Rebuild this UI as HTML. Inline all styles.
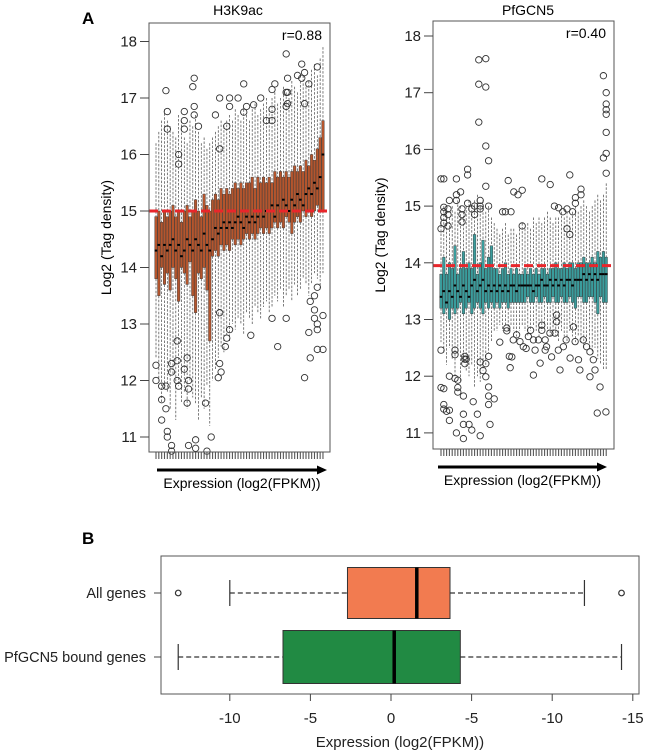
<!DOCTYPE html>
<html><head><meta charset="utf-8">
<style>
html,body{margin:0;padding:0;background:#fff;}
svg{display:block;font-family:"Liberation Sans",sans-serif;}
</style></head>
<body>
<svg id="fig" width="649" height="753" viewBox="0 0 649 753">
  <text x="82" y="24" font-size="17" font-weight="bold">A</text>
  <text x="82" y="544" font-size="17" font-weight="bold">B</text>
  <g id="pL"></g>
  <g id="pR"></g>
  <g id="pB"></g>
</svg>
<script>
// ---------- Panel A left (H3K9ac) ----------
const medL=[14.3,14.4,14.2,14.4,14.3,14.4,14.5,14.3,14.4,14.2,14.3,14.5,14.4,14.3,14.5,14.4,14.3,14.6,14.4,14.3,14.5,14.7,14.6,14.7,14.8,14.7,14.8,14.7,14.8,14.9,14.8,14.7,14.9,14.8,14.9,14.8,14.9,15.0,14.9,15.0,15.0,15.1,14.9,15.1,15.0,15.2,15.1,15.0,15.2,15.1,15.3,15.2,15.1,15.3,15.4,15.3,15.5,15.4,15.6,16.0];
const q1L=[13.8,13.5,14.0,13.7,13.9,13.6,14.0,13.8,13.4,14.0,13.9,13.7,14.1,13.5,13.2,13.9,13.8,14.0,13.6,12.7,14.2,14.3,14.2,14.4,14.3,14.4,14.3,14.5,14.4,14.5,14.4,14.5,14.6,14.5,14.6,14.5,14.6,14.7,14.6,14.7,14.6,14.7,14.8,14.7,14.8,14.7,14.9,14.8,14.6,14.8,14.9,14.8,15.0,14.9,15.0,14.9,15.0,15.1,15.0,15.0];
const q3L=[14.9,15.0,14.8,15.0,14.9,15.0,15.1,14.9,15.0,14.8,15.0,15.1,14.9,15.0,15.2,15.0,14.9,15.3,15.1,15.0,15.2,15.3,15.2,15.4,15.3,15.4,15.3,15.4,15.5,15.4,15.5,15.4,15.5,15.5,15.6,15.4,15.6,15.5,15.6,15.5,15.6,15.5,15.7,15.6,15.7,15.6,15.7,15.6,15.7,15.8,15.7,15.8,15.7,15.9,15.8,16.0,15.9,16.1,16.3,16.6];
const hiL=[16.2,16.4,16.6,16.8,16.6,16.5,16.4,16.3,16.7,16.6,16.3,16.2,16.6,16.5,16.7,16.4,16.2,16.3,16.1,16.2,16.3,16.4,16.5,16.6,16.5,16.6,16.7,16.6,16.8,16.7,16.6,16.8,16.7,16.6,16.8,16.9,16.7,16.8,16.9,17.0,16.8,17.0,17.1,16.9,17.0,17.2,17.1,17.0,17.3,17.2,17.1,17.3,17.4,17.2,17.3,17.5,17.6,17.4,17.7,17.9];
const loL=[12.4,12.0,11.6,11.9,11.8,11.5,12.1,11.3,11.9,11.6,11.8,11.5,12.0,11.7,11.6,11.3,11.7,11.5,11.9,11.2,12.0,12.2,12.4,12.6,12.5,12.8,12.7,13.0,12.9,13.1,13.0,12.8,13.2,13.1,13.0,13.3,13.2,13.1,13.3,13.4,13.2,13.3,13.5,13.4,13.6,13.3,13.5,13.6,13.4,13.7,13.5,13.6,13.8,13.7,13.5,13.7,13.9,13.8,13.6,13.9];
const outIdxL=[3.5,4,4,10,10,10,8,8,13,13.5,13.5,13.5,15,21,22.5,22.5,25,26,26,29,31,31,32,34.5,37,39,41,41,41,42,46,46,46,46.5,46.5,46.5,50,51.5,51.5,52.5,52.5,54,57,
 0,0,2,2,4,4,2,3.5,5.5,5.5,3.5,5.5,5.5,7.5,7.5,7.5,8,10,11,11,11.5,11.5,11.5,14,14,17.5,18,19.5,22.5,22.5,23,24.5,25,26,22,33.5,41,43,46,52.5,54,54.5,54.5,56,56,56,57,57,57,57,59,59];
const outValL=[17.13,16.76,16.45,16.76,16.6,16.45,16.0,15.83,17.2,17.35,16.85,16.7,16.5,16.7,17.0,16.1,16.5,17.0,16.85,17.0,17.25,16.75,16.85,16.88,17.0,16.6,16.6,16.8,17.15,17.25,17.78,17.1,16.85,17.35,16.9,17.1,17.4,17.6,17.35,17.45,16.9,17.25,17.55,
 12.27,12.0,11.66,11.3,11.0,11.1,11.9,11.9,10.85,10.75,11.5,12.15,12.3,12.7,12.35,12.0,11.9,12.2,12.4,11.6,12.0,11.85,10.85,10.95,10.8,11.6,10.75,11.0,13.2,12.3,12.15,12.6,12.75,12.9,12.05,12.8,13.1,12.6,13.1,12.05,12.85,12.4,13.4,13.5,13.25,13.1,13.0,12.9,13.65,12.55,13.15,12.55];
const yTicksL=[11,12,13,14,15,16,17,18];
const refL=15.0;

// ---------- Panel A right (PfGCN5) ----------
const medR=[13.4,13.5,13.3,13.5,13.4,13.6,13.5,13.4,13.6,13.5,13.4,13.6,13.7,13.5,13.6,13.7,13.5,13.6,13.5,13.6,13.5,13.6,13.5,13.6,13.5,13.6,13.6,13.5,13.6,13.6,13.6,13.6,13.6,13.5,13.6,13.6,13.7,13.6,13.6,13.7,13.6,13.7,13.6,13.7,13.6,13.7,13.7,13.6,13.7,13.7,13.7,13.8,13.7,13.8,13.7,13.8,13.7,13.8,13.8,13.8];
const q1R=[13.2,13.1,13.2,13.0,13.2,13.1,13.2,13.3,13.1,13.2,13.3,13.1,13.2,13.3,13.2,13.1,13.3,13.2,13.3,13.2,13.3,13.2,13.3,13.3,13.2,13.3,13.3,13.3,13.3,13.3,13.3,13.4,13.3,13.3,13.4,13.3,13.3,13.4,13.3,13.3,13.4,13.3,13.3,13.4,13.3,13.3,13.4,13.3,13.2,13.4,13.4,13.3,13.3,13.4,13.4,13.3,13.1,13.4,13.3,13.3];
const q3R=[13.8,14.1,13.8,14.0,13.9,14.3,13.8,13.9,14.2,13.9,14.0,13.9,14.5,13.8,14.0,14.4,13.9,14.1,14.3,13.9,13.9,13.8,13.9,14.0,13.8,13.9,13.8,13.9,13.8,13.8,13.9,13.8,13.9,13.8,13.9,13.8,13.9,13.9,13.8,13.9,13.9,14.0,13.9,13.9,14.0,13.9,14.0,14.0,13.9,14.0,14.0,14.1,14.0,14.0,14.1,14.0,14.2,14.1,14.2,14.1];
const hiR=[14.8,15.0,14.9,14.8,15.0,14.9,15.1,15.0,14.9,15.0,15.1,15.0,15.1,15.2,15.0,15.1,14.9,15.0,14.8,14.7,14.6,14.5,14.6,14.7,14.5,14.6,14.6,14.5,14.6,14.7,14.6,14.7,14.6,14.8,14.7,14.8,14.7,14.8,14.9,14.8,14.7,14.8,14.8,14.9,14.8,14.9,14.8,14.9,15.0,14.9,15.0,15.1,15.0,14.9,15.0,15.1,15.2,15.1,15.2,15.4];
const loR=[12.6,12.4,12.2,12.5,12.3,12.0,12.4,11.9,12.3,12.1,12.0,12.2,11.8,12.0,11.9,12.1,12.2,12.4,12.6,12.8,12.8,12.9,12.8,12.9,12.8,12.9,12.8,12.7,12.8,12.9,12.8,12.7,12.8,12.9,12.8,12.7,12.8,12.9,12.8,12.7,12.8,12.7,12.6,12.8,12.7,12.6,12.8,12.7,12.6,12.7,12.6,12.5,12.6,12.5,12.4,12.5,12.3,12.2,12.1,12.1];
const outIdxR=[0,1,5.5,3,1,1,1,1,0,2.5,2.5,2.5,5.5,5.5,7,7.5,7.5,7.5,9.5,9.5,9.5,11,12,12,13.5,16,13.5,16,13.5,16,17,16,14,14,14,17,24,22,23,25,26,27.5,29,29,36,39,40.5,42,43.5,45,46,47,45,46,48,48,50,50,58,59,59,59,59,59,59,58,59,
 0,0,1,1,1,2,3,3,5,5,3,5,6,6,6,5.5,8,8,8.5,8.5,8.5,8,8,10,11,11.5,9,13,14,15,16,17,14,16,17,17,17,17.5,19,21,23.5,23.5,24.4,25.3,24.7,25.8,27,28.2,29.4,30.4,31.2,32,33,33.6,34.8,36,36,37.2,37.7,38.9,39.5,40.7,41.3,41.3,41.9,42.5,43.7,44.7,46.1,47.3,47.9,49.1,49.6,50.8,52,53.2,54.4,55,53.2,56.8,55.8,58.9,33,35.4,37.2];
const outValR=[15.48,15.48,15.48,15.1,14.98,14.9,14.8,14.7,14.6,14.95,14.85,14.65,15.2,15.1,15.25,14.95,14.85,14.72,15.65,15.55,15.05,14.95,15.0,14.85,17.58,17.6,17.15,17.1,16.48,16.06,15.8,15.35,15.1,15.0,14.95,15.0,15.45,14.9,14.9,14.9,15.25,15.2,15.28,14.65,15.48,15.38,15.0,14.97,14.9,14.95,15.55,14.9,14.6,14.5,15.15,15.05,15.3,15.2,17.3,17.0,16.8,16.7,16.62,16.3,15.93,15.85,15.58,
 12.46,11.8,11.78,11.5,11.42,11.38,11.4,11.22,12.46,12.38,12.0,11.96,11.93,11.8,11.72,11.0,11.15,10.9,12.35,12.3,12.22,11.33,11.65,11.15,11.05,11.55,12.3,11.33,12.25,12.1,12.22,12.35,10.95,11.99,11.81,11.65,11.5,11.15,11.6,12.6,12.85,12.8,12.35,12.34,12.15,12.64,12.73,12.61,12.52,12.49,12.7,12.81,12.64,12.46,12.64,12.81,12.9,12.64,12.52,12.76,12.34,12.76,12.96,13.08,12.46,12.11,12.52,12.64,12.32,12.87,12.61,12.29,12.11,12.64,12.52,12.43,12.29,12.11,11.99,11.81,11.35,11.37,12.02,12.23,12.46];
const yTicksR=[11,12,13,14,15,16,17,18];
const refR=13.95;

// ---------- Panel B ----------
const groupsB=["All genes","PfGCN5 bound genes"];
const minB=[-10,-13.2];
const q1B=[-2.7,-6.7];
const medB=[1.6,0.2];
const q3B=[3.66,4.3];
const maxB=[12.0,14.3];
const outB=[[-13.2,14.3],[]];
const xTickValsB=[-10,-5,0,5,10,15];
const xTickLabelsB=["-10","-5","0","-5","-10","-15"];
const fillB=["#f27b50","#218a43"];

const NS="http://www.w3.org/2000/svg";
function mk(parent,tag,attrs,text){
  const e=document.createElementNS(NS,tag);
  for(const k in attrs)e.setAttribute(k,attrs[k]);
  if(text!==undefined)e.textContent=text;
  parent.appendChild(e);return e;
}

function boxPanel(g,cfg){
  const yS=v=>cfg.y18+(18-v)*cfg.ppu;
  const xS=i=>cfg.x0+i*cfg.dx;
  let e;
  e=mk(g,"text",{x:cfg.titleX,y:15,"font-size":14,"text-anchor":"middle"},cfg.title);
  
  
  for(let i=0;i<cfg.med.length;i++){
    const x=xS(i);
    e=mk(g,"line",{x1:x,x2:x,y1:yS(cfg.hi[i]),y2:yS(cfg.q3[i]),stroke:"#444","stroke-width":0.7,"stroke-dasharray":"2.5,1.5"});
    
    
    e=mk(g,"line",{x1:x,x2:x,y1:yS(cfg.q1[i]),y2:yS(cfg.lo[i]),stroke:"#444","stroke-width":0.7,"stroke-dasharray":"2.5,1.5"});
    
    
  }
  for(let i=0;i<cfg.med.length;i++){
    const x=xS(i);
    e=mk(g,"rect",{x:x-1.3,y:yS(cfg.q3[i]),width:2.6,height:yS(cfg.q1[i])-yS(cfg.q3[i]),fill:cfg.fill,stroke:"#333","stroke-width":0.4});
    
    
    e=mk(g,"line",{x1:x-1.4,x2:x+1.4,y1:yS(cfg.med[i]),y2:yS(cfg.med[i]),stroke:"#000","stroke-width":2});
    
    
  }
  for(let k=0;k<cfg.oi.length;k++){
    e=mk(g,"circle",{cx:xS(cfg.oi[k]),cy:yS(cfg.ov[k]),r:3.2,fill:"none",stroke:"#333","stroke-width":0.9});
    
    
  }
  e=mk(g,"line",{x1:cfg.fx,x2:cfg.fx2,y1:yS(cfg.ref),y2:yS(cfg.ref),stroke:"#e8262b","stroke-width":3,"stroke-dasharray":"9,4"});
  
  
  e=mk(g,"rect",{x:cfg.fx,y:cfg.fy,width:cfg.fx2-cfg.fx,height:cfg.fy2-cfg.fy,fill:"none",stroke:"#555","stroke-width":1});
  
  
  for(const t of cfg.ticks){
    e=mk(g,"line",{x1:cfg.fx-9,x2:cfg.fx,y1:yS(t),y2:yS(t),stroke:"#444","stroke-width":1});
    
    
    e=mk(g,"text",{x:cfg.fx-12,y:yS(t)+5,"font-size":15,"text-anchor":"end",fill:"#222"},String(t));
    
    
  }
  for(let i=0;i<cfg.med.length;i++){
    e=mk(g,"line",{x1:xS(i),x2:xS(i),y1:cfg.fy2,y2:cfg.fy2+7,stroke:"#555","stroke-width":1.1});
    
    
  }
  e=mk(g,"text",{x:cfg.ylx,y:(cfg.fy+cfg.fy2)/2,"font-size":14,"text-anchor":"middle",transform:`rotate(-90 ${cfg.ylx} ${(cfg.fy+cfg.fy2)/2})`},"Log2 (Tag density)");
  
  
  e=mk(g,"line",{x1:cfg.ax1,x2:cfg.ax2-8,y1:cfg.ay,y2:cfg.ay,stroke:"#000","stroke-width":3});
  
  
  e=mk(g,"polygon",{points:`${cfg.ax2},${cfg.ay} ${cfg.ax2-10},${cfg.ay-4.5} ${cfg.ax2-10},${cfg.ay+4.5}`,fill:"#000"});
  
  
  e=mk(g,"text",{x:(cfg.ax1+cfg.ax2)/2,y:cfg.ay+18,"font-size":14,"text-anchor":"middle"},"Expression (log2(FPKM))");
  
  
  e=mk(g,"text",{x:cfg.fx2-8,y:cfg.fy+17,"font-size":14,"text-anchor":"end"},cfg.r);
  
  
}

boxPanel(document.getElementById("pL"),{title:"H3K9ac",titleX:238,med:medL,q1:q1L,q3:q3L,hi:hiL,lo:loL,oi:outIdxL,ov:outValL,
  ticks:yTicksL,ref:refL,fill:"#b4552d",x0:156,dx:2.83,y18:41.5,ppu:56.5,fx:149,fx2:330,fy:23,fy2:452,ylx:111,ax1:157,ax2:327,ay:470,r:"r=0.88"});
boxPanel(document.getElementById("pR"),{title:"PfGCN5",titleX:528,med:medR,q1:q1R,q3:q3R,hi:hiR,lo:loR,oi:outIdxR,ov:outValR,
  ticks:yTicksR,ref:refR,fill:"#3a9c9c",x0:441,dx:2.8,y18:36,ppu:56.7,fx:433,fx2:614,fy:21,fy2:449,ylx:385,ax1:438,ax2:607,ay:467,r:"r=0.40"});

// Panel B
(function(){
  const g=document.getElementById("pB");
  const xS=v=>391+v*16.12;
  const rowY=[593,657];
  const bh=[51,53];
  let e;
  e=mk(g,"rect",{x:161,y:556,width:478,height:138,fill:"none",stroke:"#555","stroke-width":1});
  
  
  for(let i=0;i<groupsB.length;i++){
    const y=rowY[i];
    e=mk(g,"line",{x1:xS(minB[i]),x2:xS(q1B[i]),y1:y,y2:y,stroke:"#333","stroke-width":1.2,"stroke-dasharray":"5,3"});
    
    
    e=mk(g,"line",{x1:xS(q3B[i]),x2:xS(maxB[i]),y1:y,y2:y,stroke:"#333","stroke-width":1.2,"stroke-dasharray":"5,3"});
    
    
    for(const v of [minB[i],maxB[i]]){
      e=mk(g,"line",{x1:xS(v),x2:xS(v),y1:y-13,y2:y+13,stroke:"#333","stroke-width":1.2});
      
      
    }
    e=mk(g,"rect",{x:xS(q1B[i]),y:y-bh[i]/2,width:xS(q3B[i])-xS(q1B[i]),height:bh[i],fill:fillB[i],stroke:"#333","stroke-width":1});
    
    
    e=mk(g,"line",{x1:xS(medB[i]),x2:xS(medB[i]),y1:y-bh[i]/2,y2:y+bh[i]/2,stroke:"#000","stroke-width":3.5});
    
    
    for(const o of outB[i]){
      e=mk(g,"circle",{cx:xS(o),cy:y,r:2.8,fill:"none",stroke:"#333","stroke-width":1.2});
      
      
    }
    e=mk(g,"line",{x1:154,x2:161,y1:y,y2:y,stroke:"#444","stroke-width":1});
    
    
    e=mk(g,"text",{x:146,y:y+5,"font-size":14.5,"text-anchor":"end",fill:"#222"},groupsB[i]);
    
    
  }
  for(let k=0;k<xTickValsB.length;k++){
    const x=xS(xTickValsB[k]);
    e=mk(g,"line",{x1:x,x2:x,y1:694,y2:701,stroke:"#444","stroke-width":1});
    
    
    e=mk(g,"text",{x:x,y:723,"font-size":15,"text-anchor":"middle",fill:"#222"},xTickLabelsB[k]);
    
    
  }
  e=mk(g,"text",{x:400,y:747,"font-size":15,"text-anchor":"middle",fill:"#222"},"Expression (log2(FPKM))");
  
  
})();
</script>
</body></html>
